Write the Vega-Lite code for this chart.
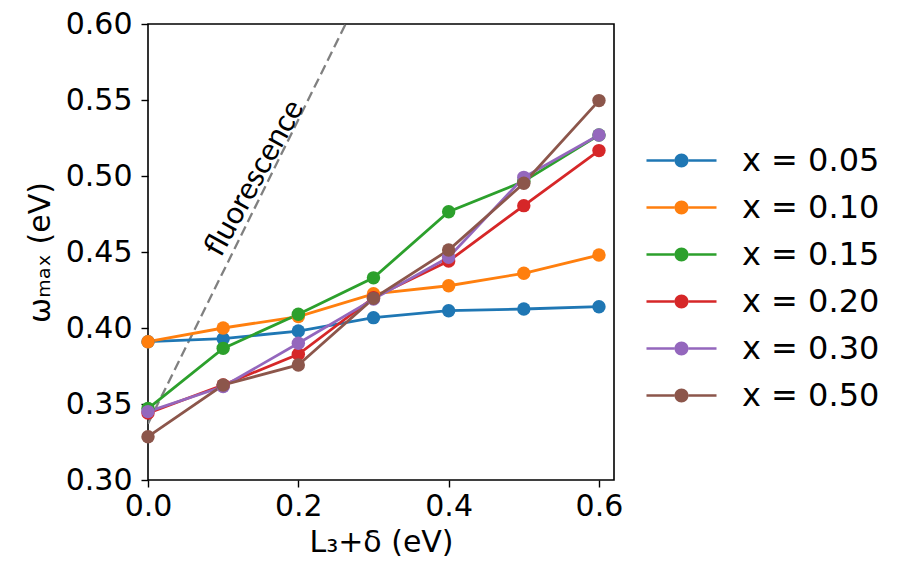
{
  "$schema": "https://vega.github.io/schema/vega-lite/v6.json",
  "width": 466,
  "height": 456,
  "autosize": {"type": "none"},
  "padding": {"left": 148, "top": 24, "right": 300, "bottom": 102},
  "background": "white",
  "config": {
    "view": {"stroke": "black", "strokeWidth": 1.6},
    "font": "DejaVu Sans",
    "axis": {
      "grid": false,
      "domain": false,
      "labelFlush": false,
      "tickColor": "black",
      "tickSize": 7,
      "tickWidth": 1.4,
      "labelFont": "DejaVu Sans",
      "labelFontSize": 30,
      "labelColor": "black",
      "titleFont": "DejaVu Sans",
      "titleFontSize": 30,
      "titleFontWeight": "normal",
      "titleColor": "black"
    },
    "legend": {
      "title": null,
      "orient": "none",
      "legendX": 510,
      "legendY": 113,
      "padding": 0,
      "rowPadding": 7,
      "symbolSize": 2209,
      "symbolType": "M-1.49,-0.053L-0.3,-0.053L-0.3,0.053L-1.49,0.053Z M0.3,-0.053L1.49,-0.053L1.49,0.053L0.3,0.053Z M0.298,0A0.298,0.298,0,1,1,-0.298,0A0.298,0.298,0,1,1,0.298,0Z",
      "symbolStrokeWidth": 0,
      "symbolOpacity": 1,
      "labelFont": "DejaVu Sans",
      "labelFontSize": 32,
      "labelColor": "black",
      "labelOffset": 37,
      "labelLimit": 300
    }
  },
  "datasets": {
    "series": [
      {"s": "x = 0.05", "L": 0.0, "w": 0.391},
      {"s": "x = 0.05", "L": 0.1, "w": 0.393},
      {"s": "x = 0.05", "L": 0.2, "w": 0.398},
      {"s": "x = 0.05", "L": 0.3, "w": 0.4068},
      {"s": "x = 0.05", "L": 0.4, "w": 0.4114},
      {"s": "x = 0.05", "L": 0.5, "w": 0.4125},
      {"s": "x = 0.05", "L": 0.6, "w": 0.414},
      {"s": "x = 0.10", "L": 0.0, "w": 0.391},
      {"s": "x = 0.10", "L": 0.1, "w": 0.4},
      {"s": "x = 0.10", "L": 0.2, "w": 0.4075},
      {"s": "x = 0.10", "L": 0.3, "w": 0.4225},
      {"s": "x = 0.10", "L": 0.4, "w": 0.4278},
      {"s": "x = 0.10", "L": 0.5, "w": 0.436},
      {"s": "x = 0.10", "L": 0.6, "w": 0.448},
      {"s": "x = 0.15", "L": 0.0, "w": 0.347},
      {"s": "x = 0.15", "L": 0.1, "w": 0.3866},
      {"s": "x = 0.15", "L": 0.2, "w": 0.409},
      {"s": "x = 0.15", "L": 0.3, "w": 0.433},
      {"s": "x = 0.15", "L": 0.4, "w": 0.4765},
      {"s": "x = 0.15", "L": 0.5, "w": 0.4965},
      {"s": "x = 0.15", "L": 0.6, "w": 0.527},
      {"s": "x = 0.20", "L": 0.0, "w": 0.344},
      {"s": "x = 0.20", "L": 0.1, "w": 0.3625},
      {"s": "x = 0.20", "L": 0.2, "w": 0.3827},
      {"s": "x = 0.20", "L": 0.3, "w": 0.42},
      {"s": "x = 0.20", "L": 0.4, "w": 0.444},
      {"s": "x = 0.20", "L": 0.5, "w": 0.4805},
      {"s": "x = 0.20", "L": 0.6, "w": 0.5167},
      {"s": "x = 0.30", "L": 0.0, "w": 0.345},
      {"s": "x = 0.30", "L": 0.1, "w": 0.3615},
      {"s": "x = 0.30", "L": 0.2, "w": 0.39},
      {"s": "x = 0.30", "L": 0.3, "w": 0.419},
      {"s": "x = 0.30", "L": 0.4, "w": 0.4465},
      {"s": "x = 0.30", "L": 0.5, "w": 0.4991},
      {"s": "x = 0.30", "L": 0.6, "w": 0.527},
      {"s": "x = 0.50", "L": 0.0, "w": 0.3285},
      {"s": "x = 0.50", "L": 0.1, "w": 0.3625},
      {"s": "x = 0.50", "L": 0.2, "w": 0.3757},
      {"s": "x = 0.50", "L": 0.3, "w": 0.4195},
      {"s": "x = 0.50", "L": 0.4, "w": 0.4513},
      {"s": "x = 0.50", "L": 0.5, "w": 0.4952},
      {"s": "x = 0.50", "L": 0.6, "w": 0.5496}
    ],
    "fluor": [
      {"L": 0.0, "w": 0.337},
      {"L": 0.263, "w": 0.6}
    ],
    "note": [
      {"L": 0.142, "w": 0.4985, "label": "fluorescence"}
    ]
  },
  "layer": [
    {
      "data": {"name": "fluor"},
      "mark": {"type": "line", "color": "#808080", "strokeWidth": 2.3, "strokeDash": [10, 5], "clip": true},
      "encoding": {
        "x": {"field": "L", "type": "quantitative", "scale": {"domain": [0, 0.62], "nice": false, "zero": false},
          "axis": {"values": [0, 0.2, 0.4, 0.6], "format": ".1f", "title": "L₃+δ (eV)", "labelPadding": 4, "titlePadding": 6}},
        "y": {"field": "w", "type": "quantitative", "scale": {"domain": [0.3, 0.6], "nice": false, "zero": false},
          "axis": {"values": [0.3, 0.35, 0.4, 0.45, 0.5, 0.55, 0.6], "format": ".2f", "title": "ωₘₐₓ (eV)", "labelPadding": 9, "titlePadding": 10}}
      }
    },
    {
      "data": {"name": "note"},
      "mark": {"type": "text", "angle": -61, "font": "Lato", "fontSize": 31, "align": "center", "baseline": "middle", "color": "black"},
      "encoding": {
        "x": {"field": "L", "type": "quantitative"},
        "y": {"field": "w", "type": "quantitative"},
        "text": {"field": "label"}
      }
    },
    {
      "data": {"name": "series"},
      "mark": {"type": "line", "strokeWidth": 2.8},
      "encoding": {
        "x": {"field": "L", "type": "quantitative"},
        "y": {"field": "w", "type": "quantitative"},
        "color": {"field": "s", "type": "nominal",
          "scale": {"domain": ["x = 0.05", "x = 0.10", "x = 0.15", "x = 0.20", "x = 0.30", "x = 0.50"],
                    "range": ["#1f77b4", "#ff7f0e", "#2ca02c", "#d62728", "#9467bd", "#8c564b"]}}
      }
    },
    {
      "data": {"name": "series"},
      "mark": {"type": "point", "filled": true, "size": 180, "opacity": 1},
      "encoding": {
        "x": {"field": "L", "type": "quantitative"},
        "y": {"field": "w", "type": "quantitative"},
        "color": {"field": "s", "type": "nominal",
          "legend": {
            "encode": {"symbols": {"update": {"fill": {"scale": "color", "field": "value"}, "stroke": {"value": "transparent"}, "opacity": {"value": 1}}}}
          }}
      }
    }
  ]
}
